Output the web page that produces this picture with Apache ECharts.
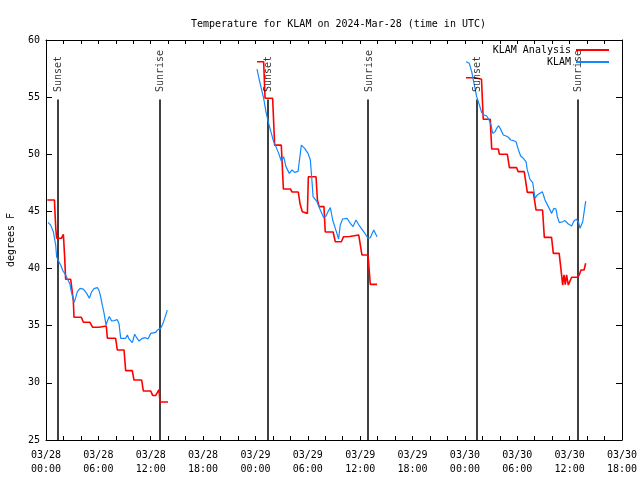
<!DOCTYPE html>
<html><head><meta charset="utf-8">
<script src="https://cdn.jsdelivr.net/npm/echarts@6/dist/echarts.min.js"></script>
<style>html,body{margin:0;padding:0;background:#fff}#c{width:640px;height:480px}</style>
</head><body><div id="c"></div>
<script>
// hours since 03/28 00:00 UTC, temperature in degrees F
const analysisNight1 = [[0.15,46.0],[0.97,46.0],[1.0,45.4],[1.08,45.3],[1.12,43.5],[1.22,42.65],[1.76,42.65],[1.99,43.0],[2.08,43.0],[2.14,41.0],[2.25,39.06],[2.83,39.06],[3.13,37.2],[3.21,35.74],[4.05,35.74],[4.28,35.3],[5.04,35.3],[5.35,34.86],[6.07,34.86],[6.12,34.97],[6.91,34.97],[7.03,33.9],[7.98,33.9],[8.17,32.88],[8.94,32.88],[9.13,31.07],[9.89,31.07],[10.08,30.25],[10.96,30.25],[11.15,29.29],[12.0,29.29],[12.22,28.9],[12.57,28.9],[12.95,29.4],[13.06,28.33],[13.98,28.33]];
const analysisNight2 = [[24.18,58.1],[24.94,58.1],[25.1,54.9],[25.97,54.9],[26.2,50.8],[26.96,50.8],[27.2,46.96],[28.0,46.96],[28.2,46.7],[28.91,46.7],[29.1,45.7],[29.37,44.98],[29.95,44.83],[30.06,48.04],[30.94,48.04],[31.1,46.0],[31.3,45.42],[31.85,45.42],[32.0,43.2],[32.9,43.2],[33.15,42.35],[33.84,42.35],[34.1,42.79],[34.8,42.8],[35.0,42.94],[35.83,42.94],[36.2,41.19],[36.9,41.19],[37.16,38.62],[37.93,38.62]];
const analysisNight3 = [[48.12,56.7],[49.2,56.7],[49.25,56.56],[49.9,56.56],[50.1,53.06],[50.9,53.06],[51.07,50.46],[51.83,50.46],[51.95,50.0],[52.86,50.0],[53.1,48.83],[53.93,48.83],[54.1,48.48],[54.8,48.48],[55.15,46.67],[55.84,46.67],[56.15,45.12],[56.9,45.12],[57.1,42.73],[57.93,42.73],[58.13,41.33],[58.8,41.33],[59.0,40.0],[59.2,38.56],[59.35,39.44],[59.5,38.6],[59.65,39.44],[59.85,38.56],[60.23,39.24],[60.87,39.24],[61.1,39.44],[61.3,39.87],[61.65,39.87],[61.84,40.46]];

const obsNight1 = [[0.23,44.04],[0.53,43.8],[0.84,43.23],[1.11,42.06],[1.22,41.04],[1.375,40.75],[1.68,40.31],[1.95,39.79],[2.14,39.58],[2.33,39.3],[2.52,39.0],[2.75,38.62],[2.9,37.98],[3.06,37.54],[3.21,37.04],[3.4,37.45],[3.59,37.98],[3.9,38.27],[4.28,38.2],[4.66,37.83],[4.97,37.4],[5.2,37.92],[5.5,38.24],[5.88,38.33],[6.07,38.1],[6.26,37.54],[6.45,36.8],[6.65,36.1],[6.88,35.06],[7.02,35.4],[7.26,35.8],[7.52,35.41],[7.8,35.45],[8.17,35.53],[8.36,35.2],[8.56,33.9],[8.75,33.95],[9.13,33.9],[9.32,34.19],[9.51,33.84],[9.7,34.0],[9.89,33.52],[10.16,34.25],[10.39,33.95],[10.66,33.66],[11.04,33.9],[11.42,33.95],[11.69,33.84],[12.0,34.33],[12.57,34.42],[12.76,34.62],[13.14,34.77],[13.33,35.06],[13.6,35.64],[13.9,36.37]];
const obsNight2 = [[24.18,57.46],[24.44,56.5],[24.67,55.77],[24.94,54.9],[25.2,53.73],[25.51,52.7],[25.82,51.83],[26.09,51.1],[26.35,50.67],[26.66,50.08],[26.96,49.41],[27.23,49.79],[27.5,48.92],[27.88,48.33],[28.19,48.63],[28.49,48.42],[28.88,48.5],[29.26,50.8],[29.64,50.52],[30.02,50.08],[30.29,49.5],[30.48,47.6],[30.6,46.3],[31.05,45.85],[31.43,45.12],[31.82,44.45],[32.08,44.6],[32.31,44.98],[32.58,45.33],[32.85,44.25],[33.15,43.52],[33.53,42.59],[33.72,43.81],[33.99,44.34],[34.49,44.4],[34.87,43.96],[35.18,43.67],[35.52,44.25],[35.9,43.75],[36.4,43.23],[36.9,42.65],[37.16,42.7],[37.55,43.38],[37.93,42.79]];
const obsNight3 = [[48.13,58.1],[48.5,57.96],[48.78,57.23],[49.04,56.2],[49.35,55.04],[49.66,54.31],[49.92,53.64],[50.2,53.44],[50.5,53.35],[50.77,53.0],[51.0,52.56],[51.18,51.83],[51.45,51.98],[51.64,52.27],[51.87,52.5],[52.1,52.18],[52.4,51.69],[52.71,51.6],[52.98,51.49],[53.25,51.25],[53.56,51.2],[53.86,51.1],[54.13,50.38],[54.39,49.85],[54.69,49.65],[55.0,49.35],[55.15,48.63],[55.46,47.81],[55.77,47.52],[56.03,46.15],[56.3,46.44],[56.6,46.59],[56.87,46.73],[57.18,46.0],[57.56,45.42],[57.94,44.83],[58.2,45.27],[58.44,45.21],[58.59,44.54],[58.82,44.02],[59.2,44.1],[59.47,44.2],[59.85,43.9],[60.23,43.73],[60.5,44.19],[60.8,44.31],[61.03,44.02],[61.19,43.52],[61.5,44.1],[61.69,45.12],[61.84,45.9]];

const sunEventHours = [1.3, 13.0, 25.4, 36.9, 49.3, 60.9];
const sunEventNames = ['Sunset','Sunrise','Sunset','Sunrise','Sunset','Sunrise'];
const sunLineTop = 54.8;
const sunLabelBase = 55.45;

const yTicks = [25,30,35,40,45,50,55,60];
const xMinHours = 0, xMaxHours = 66;

const FONT = 'DejaVu Sans Mono';
function joinNights(a){ const out=[]; a.forEach((n,i)=>{ if(i>0) out.push([n[0][0]-0.5,'-']); out.push(...n); }); return out; }
function xLabel(v){
  if (v % 6 !== 0) return '';
  const day = 28 + Math.floor(v/24);
  const hh = v % 24;
  return '03/' + String(day).padStart(2,'0') + '\n' + String(hh).padStart(2,'0') + ':00';
}

const chart = echarts.init(document.getElementById('c'), null, {renderer:'canvas'});
const axisCommonX = {
  type:'value', min:xMinHours, max:xMaxHours, interval:2,
  axisLine:{show:true, onZero:false, lineStyle:{color:'#000', width:1}},
  axisTick:{show:true, inside:true, length:4, lineStyle:{color:'#000'}},
  splitLine:{show:false}
};
const axisCommonY = {
  type:'value', min:yTicks[0], max:yTicks[yTicks.length-1], interval:5,
  axisLine:{show:true, onZero:false, lineStyle:{color:'#000', width:1}},
  axisTick:{show:true, inside:true, length:6, lineStyle:{color:'#000'}},
  splitLine:{show:false}
};
chart.setOption({
  animation:false,
  backgroundColor:'#fff',
  textStyle:{fontFamily:FONT},
  title:{text:'Temperature for KLAM on 2024-Mar-28 (time in UTC)', left:186, top:14,
    textStyle:{fontFamily:FONT, fontSize:10, fontWeight:'normal', color:'#000'}},
  legend:{
    data:['KLAM Analysis','KLAM'], orient:'vertical', right:26, top:39, align:'right',
    itemWidth:33, itemHeight:2, itemGap:0, icon:'rect',
    textStyle:{fontFamily:FONT, fontSize:10, color:'#000', lineHeight:12, padding:[0,0,0,0]}
  },
  grid:{left:46, right:18, top:40, bottom:40, containLabel:false, outerBoundsMode:'none'},
  xAxis:[
    Object.assign({}, axisCommonX, {position:'bottom',
      axisLabel:{show:true, formatter:xLabel, fontFamily:FONT, fontSize:10, color:'#000', lineHeight:14, margin:8, showMinLabel:true, showMaxLabel:true}}),
    Object.assign({}, axisCommonX, {position:'top', axisLabel:{show:false}})
  ],
  yAxis:[
    Object.assign({}, axisCommonY, {position:'left', name:'degrees F', nameLocation:'middle', nameGap:30, nameRotate:90,
      nameTextStyle:{fontFamily:FONT, fontSize:10, color:'#000'},
      axisLabel:{show:true, fontFamily:FONT, fontSize:10, color:'#000', margin:6}}),
    Object.assign({}, axisCommonY, {position:'right', axisLabel:{show:false}})
  ],
  series:[
    {name:'KLAM Analysis', type:'line', data:joinNights([analysisNight1,analysisNight2,analysisNight3]),
      showSymbol:false, symbol:'none', connectNulls:false, color:'#ff0000',
      lineStyle:{color:'#ff0000', width:1.6}, z:3},
    {name:'KLAM', type:'line', data:joinNights([obsNight1,obsNight2,obsNight3]),
      showSymbol:false, symbol:'none', connectNulls:false, color:'#1188ff',
      lineStyle:{color:'#1188ff', width:1.2}, z:4},
    {name:'sun', type:'lines', coordinateSystem:'cartesian2d', polyline:false, silent:true,
      data:sunEventHours.map(h=>({coords:[[h,yTicks[0]],[h,sunLineTop]]})),
      lineStyle:{color:'#000', width:1.5, opacity:1}, z:2},
    {name:'sunLabels', type:'scatter', symbolSize:0, silent:true,
      data:sunEventHours.map((h,i)=>({value:[h,sunLabelBase], name:sunEventNames[i]})),
      label:{show:true, position:[1,0], rotate:90, align:'left', verticalAlign:'middle',
        formatter:p=>p.name, fontFamily:FONT, fontSize:10, color:'#000'}, z:5}
  ]
});
</script></body></html>
